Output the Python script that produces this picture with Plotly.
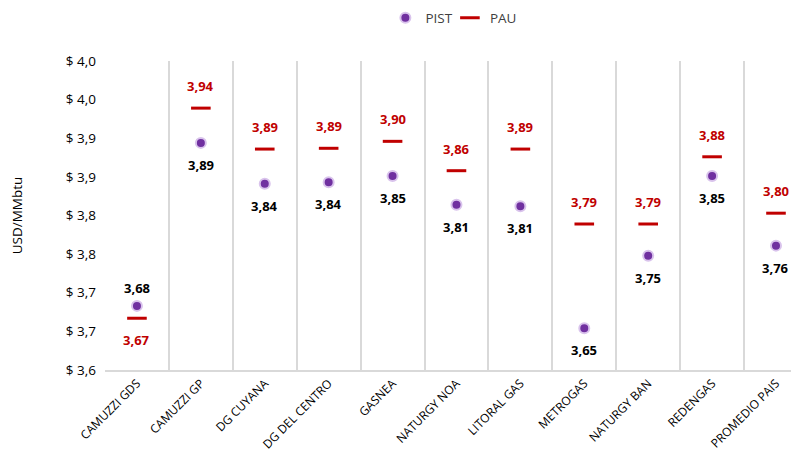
import plotly.graph_objects as go

categories = ["CAMUZZI GDS", "CAMUZZI GP", "DG CUYANA", "DG DEL CENTRO", "GASNEA",
              "NATURGY NOA", "LITORAL GAS", "METROGAS", "NATURGY BAN", "REDENGAS", "PROMEDIO PAIS"]
pist = [3.683, 3.894, 3.841, 3.843, 3.851, 3.814, 3.812, 3.654, 3.748, 3.851, 3.761]
pau = [3.667, 3.939, 3.886, 3.887, 3.896, 3.858, 3.886, 3.789, 3.789, 3.876, 3.803]
y_tickvals = [3.60, 3.65, 3.70, 3.75, 3.80, 3.85, 3.90, 3.95, 4.00]
y_ticktext = ["$ 3,6", "$ 3,7", "$ 3,7", "$ 3,8", "$ 3,8", "$ 3,9", "$ 3,9", "$ 4,0", "$ 4,0"]

PURPLE = "#7030A0"
RED = "#C00000"
FONT = "Open Sans"

fig = go.Figure()
fig.add_trace(go.Scatter(
    x=categories, y=pist, mode="markers", name="PIST", legend="legend",
    marker=dict(symbol="circle", size=10, color=PURPLE,
                line=dict(color="#D9C3EC", width=2)),
))
fig.add_trace(go.Scatter(
    x=categories, y=pau, mode="markers", name="PAU", legend="legend2",
    marker=dict(symbol="line-ew", size=14, color=RED,
                line=dict(color=RED, width=3)),
))

annotations = []
for c, p, q in zip(categories, pist, pau):
    pist_above = p > q
    annotations.append(dict(
        x=c, y=p, xref="x", yref="y", text=f"{p:.2f}".replace(".", ","),
        showarrow=False, yshift=18 if pist_above else -22,
        font=dict(family=FONT, size=13, color="#000000", weight="bold"),
    ))
    annotations.append(dict(
        x=c, y=q, xref="x", yref="y", text=f"{q:.2f}".replace(".", ","),
        showarrow=False, yshift=-22 if pist_above else 22,
        font=dict(family=FONT, size=13, color=RED, weight="bold"),
    ))

legend_style = dict(orientation="h", xanchor="left", y=1.139, yanchor="middle",
                    itemwidth=30, font=dict(size=13.5, color="#404040"),
                    bgcolor="rgba(0,0,0,0)")

fig.update_layout(
    width=791, height=447,
    margin=dict(l=97, r=0, t=53, b=85, autoexpand=False),
    paper_bgcolor="white", plot_bgcolor="white",
    font=dict(family=FONT, size=12, color="#404040"),
    showlegend=True,
    legend=dict(x=0.404, **legend_style),
    legend2=dict(x=0.497, **legend_style),
    annotations=annotations,
    xaxis=dict(
        type="category", range=[-0.5, 10.36], tickson="boundaries", automargin=False,
        showgrid=True, gridcolor="#D9D9D9", gridwidth=1.5,
        showline=True, linecolor="#D9D9D9", linewidth=1.5,
        ticks="", tickangle=-45, tickfont=dict(size=12, color="#000000"),
    ),
    yaxis=dict(
        range=[3.6, 4.0], tickmode="array", tickvals=y_tickvals, ticktext=y_ticktext,
        showgrid=False, zeroline=False, showline=False, ticks="", automargin=False,
        ticklabelstandoff=8,
        tickfont=dict(size=13.5, color="#000000"),
        title=dict(text="USD/MMbtu", font=dict(size=13.5, color="#000000"), standoff=40),
    ),
)
fig.write_html("out.html")
